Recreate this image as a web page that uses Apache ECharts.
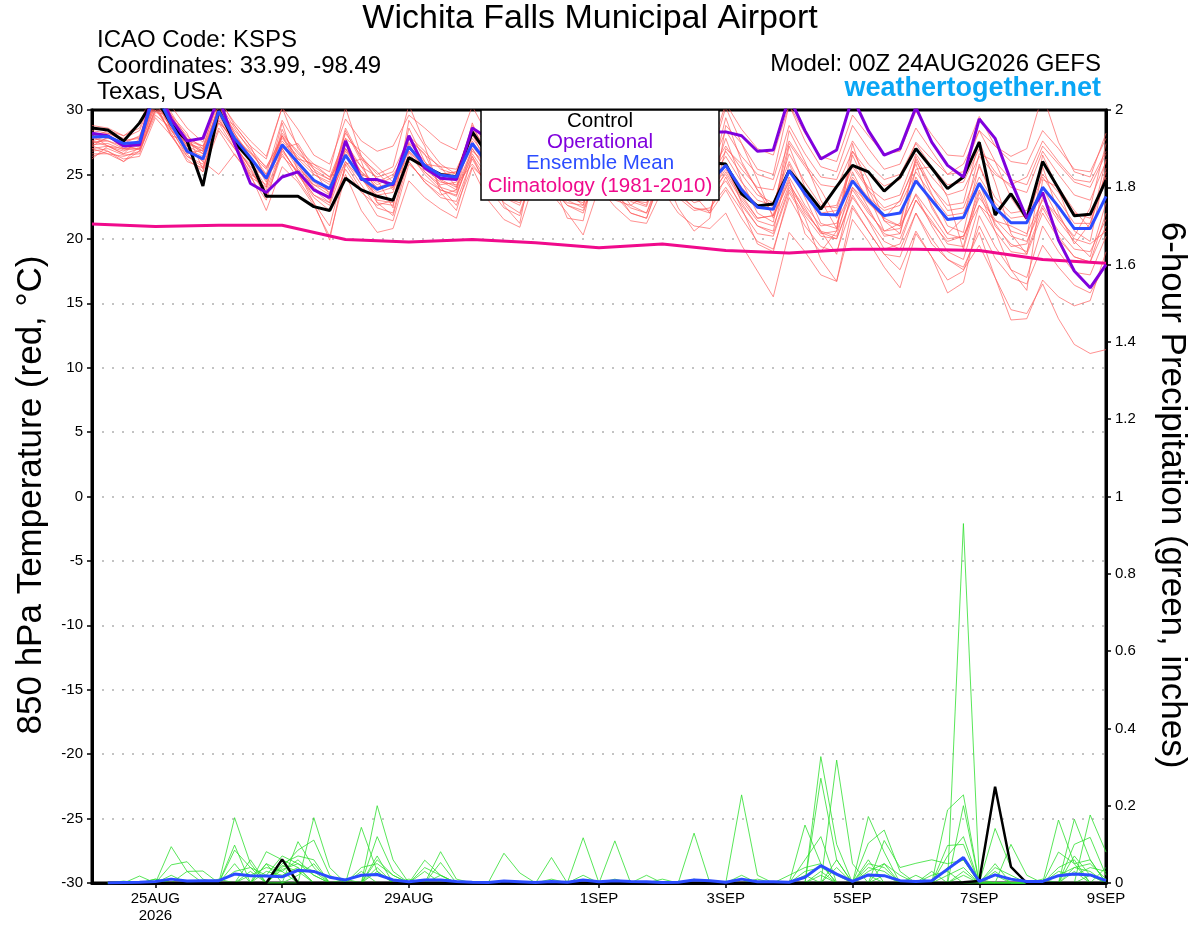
<!DOCTYPE html>
<html><head><meta charset="utf-8">
<script src="https://cdn.jsdelivr.net/npm/echarts@6/dist/echarts.min.js"></script>
<style>html,body{margin:0;padding:0;background:#fff}#c{width:1200px;height:927px}</style>
</head><body><div id="c"></div>
<script>
// ---- tick labels (forecast hour from 00Z 24AUG2026) ----
const tickHours = [24, 72, 120, 192, 240, 288, 336, 384];
const tickLabels = ['25AUG\n2026', '27AUG', '29AUG', '1SEP', '3SEP', '5SEP', '7SEP', '9SEP'];

// ---- 850 hPa temperature, 6-hourly (65 values) ----
const tempControl = [
28.6,28.45,27.6,29.0, 31.0,28.9,27.6,24.1, 30.0,27.5,26.1,23.3, 23.3,23.3,22.5,22.2,
24.7,23.8,23.3,23.0, 26.3,25.6,25.0,24.8, 28.3,26.5,25.4,25.0, 27.6,26.4,25.6,25.2,
27.8,26.6,25.7,25.3, 27.9,26.8,26.0,25.9, 25.8,23.5,22.55,22.7, 25.3,23.85,22.3,24.05,
25.7,25.2,23.7,24.8, 27.0,25.5,23.9,24.8, 27.5,21.85,23.5,21.6, 26.0,23.9,21.8,21.9, 24.55];
const tempOper = [
28.2,28.0,27.2,27.3, 32.0,29.3,27.6,27.8, 31.0,27.4,24.3,23.6, 24.8,25.2,23.8,23.2,
27.6,24.6,24.6,24.2, 28.0,25.5,24.7,24.6, 28.6,27.8,27.0,26.8, 29.0,28.2,27.6,27.4,
29.4,28.6,28.0,27.8, 29.6,28.8,28.4,28.3, 28.3,28.0,26.8,26.9, 31.0,28.4,26.2,26.9,
31.0,28.4,26.5,27.0, 30.2,27.5,25.7,24.8, 29.3,27.8,24.5,21.6, 23.6,19.9,17.5,16.2, 18.0];
const tempMean = [
27.9,27.95,27.4,27.5, 31.5,28.9,26.8,26.2, 29.9,27.8,26.3,24.7, 27.3,25.9,24.55,23.9,
26.5,24.7,23.85,24.3, 27.15,25.7,24.95,24.8, 27.4,25.8,24.6,24.2, 26.8,25.4,24.3,24.0,
26.6,25.2,24.0,23.8, 26.4,25.0,24.1,24.4, 25.7,23.8,22.45,22.3, 25.3,23.5,21.9,21.85,
24.5,23.0,21.8,22.0, 24.5,23.0,21.5,21.65, 24.3,22.4,21.25,21.25, 24.0,22.5,20.8,20.8, 23.3];
// climatology, daily (17 values)
const tempClimo = [21.15,20.95,21.05,21.05,19.95,19.75,19.95,19.7,19.3,19.6,19.1,18.9,19.2,19.2,19.1,18.4,18.1];

// ensemble members (red)
const tm01 = [28.8,28.6,28.0,28.9, 32.0,30.3,28.6,27.5, 30.8,29.0,27.6,26.4, 30.2,28.5,26.5,25.8, 29.3,27.6,26.8,27.2, 29.6,28.6,27.5,26.9, 30.3,28.0,26.9,26.5, 29.2,27.8,26.7,26.3, 29.0,27.6,26.2,25.9, 28.8,27.4,26.5,26.7, 30.5,28.5,27.0,26.5, 30.4,28.2,26.4,26.0, 29.6,28.0,26.6,26.8, 29.9,28.1,26.5,26.4, 29.5,27.2,26.0,25.8, 28.4,27.0,25.4,25.2, 27.8];
const tm02 = [27.0,26.6,26.0,27.2, 30.4,28.0,26.2,25.2, 28.4,26.5,25.0,22.2, 25.6,24.4,22.6,20.2, 25.0,22.2,20.5,20.8, 24.5,23.2,22.3,21.6, 25.5,23.0,21.5,20.9, 24.8,23.5,22.0,20.3, 24.0,22.5,21.4,21.2, 23.8,22.0,21.0,20.8, 22.0,19.5,17.5,15.5, 20.5,19.0,17.2,16.7, 21.5,19.8,17.8,16.2, 20.4,18.6,16.8,17.5, 21.0,18.5,17.0,16.5, 19.5,17.8,16.4,15.8, 18.0];
const tm03 = [27.5,27.6,27.0,27.2, 31.0,29.2,27.0,26.0, 30.5,28.2,26.0,24.0, 28.5,26.0,24.0,23.0, 27.8,25.0,23.0,22.8, 28.6,26.0,24.5,23.8, 28.2,25.5,23.9,23.2, 27.8,25.2,23.5,23.0, 27.6,25.0,23.1,22.6, 27.5,25.2,23.8,24.0, 27.8,24.5,22.0,21.3, 27.2,24.0,21.2,20.8, 26.5,23.8,21.4,21.0, 26.2,23.5,21.0,20.5, 25.8,22.6,20.6,20.2, 26.5,23.8,20.6,19.8, 25.5];
const tm04 = [27.3,27.4,26.9,27.0, 30.8,28.5,26.4,25.8, 29.4,27.2,25.5,23.5, 26.8,25.2,23.4,22.6, 26.0,24.2,22.4,22.0, 26.7,25.0,23.8,23.3, 27.0,25.0,23.6,23.2, 26.3,24.8,23.6,23.2, 26.0,24.2,22.9,22.5, 25.8,24.4,23.4,23.2, 24.5,22.6,21.0,20.4, 24.0,22.2,20.5,20.0, 23.2,21.5,19.8,19.2, 22.0,19.6,18.4,17.8, 20.5,17.0,14.5,14.2, 16.5,13.8,11.8,11.1, 11.4];
const tm05 = [28.0,28.2,27.6,27.9, 31.8,29.6,27.4,26.8, 30.2,28.4,27.0,25.5, 28.0,26.8,25.4,24.6, 27.0,25.6,24.8,25.2, 27.8,26.5,25.6,25.4, 28.0,26.6,25.4,25.0, 27.6,26.2,25.2,24.9, 27.4,26.0,24.8,24.6, 27.2,25.9,24.9,25.2, 27.2,25.4,24.0,23.8, 27.6,25.8,24.2,24.0, 26.8,25.2,24.1,24.6, 27.5,26.2,25.0,25.8, 28.4,27.2,26.4,27.0, 31.2,27.5,25.2,24.8, 28.2];
const tm06 = [26.8,27.0,26.5,26.6, 30.2,28.2,26.0,25.5, 29.0,27.0,25.2,23.8, 27.0,25.0,23.2,22.2, 25.4,23.6,22.6,23.0, 26.0,24.4,23.2,22.9, 26.2,24.0,22.4,21.8, 25.6,23.8,22.6,22.2, 25.2,23.4,22.0,21.6, 25.0,23.4,22.4,22.0, 23.8,21.6,19.8,19.2, 23.2,21.0,19.4,19.0, 22.6,20.6,18.8,18.6, 22.0,20.0,18.4,17.6, 19.5,17.0,13.7,13.8, 16.8,15.5,14.8,15.2, 19.0];
const tm07 = [27.6,27.2,27.0,27.6, 31.2,28.4,26.6,26.9, 29.0,27.8,26.7,25.6, 27.8,26.4,25.2,24.6, 27.4,25.6,23.8,24.2, 27.0,25.8,25.0,25.2, 28.6,26.8,25.6,24.6, 27.0,25.4,24.2,24.4, 26.8,25.6,24.6,24.2, 26.8,25.2,24.0,24.6, 26.4,24.4,23.0,22.6, 26.6,24.4,22.6,22.4, 25.6,23.8,22.4,22.9, 26.0,24.0,22.2,22.4, 25.6,23.2,22.0,22.2, 25.0,23.6,22.0,21.6, 24.8];
const tm08 = [27.2,26.8,26.2,26.4, 29.4,28.0,26.4,25.6, 28.6,27.0,25.8,24.8, 28.0,25.6,24.2,23.4, 26.0,24.6,23.4,23.6, 27.5,26.0,24.6,24.0, 27.0,25.2,23.8,23.0, 26.4,24.6,23.4,23.2, 26.0,24.6,23.2,23.0, 26.2,24.6,23.4,23.6, 25.0,23.0,21.4,21.0, 24.2,22.4,20.4,20.6, 23.8,22.0,20.6,20.8, 23.5,21.8,20.0,20.2, 23.2,21.5,20.2,19.8, 22.6,20.6,19.2,19.0, 21.5];
const tm09 = [28.4,28.2,27.8,28.4, 31.4,29.8,27.8,27.2, 30.6,28.6,26.8,25.0, 29.2,27.2,25.0,24.4, 28.2,26.4,25.0,25.6, 30.4,27.4,25.8,25.0, 28.4,26.6,25.2,24.8, 28.0,26.4,25.0,24.8, 28.2,26.6,25.4,25.0, 28.4,26.6,25.6,26.0, 30.2,27.4,25.4,25.0, 30.4,27.6,25.6,25.2, 28.8,27.0,25.4,25.8, 28.6,26.8,25.0,25.2, 28.4,26.0,24.6,24.2, 27.2,25.8,24.4,24.0, 26.6];
const tm10 = [26.4,26.8,26.0,26.8, 30.0,28.8,27.0,26.4, 30.4,28.0,26.4,24.6, 27.4,25.4,24.4,23.6, 26.8,25.2,24.0,24.4, 26.4,25.2,24.2,24.4, 27.6,25.4,24.0,23.6, 26.6,24.8,23.2,22.8, 26.4,24.6,23.0,22.8, 25.6,24.0,23.2,23.6, 25.4,23.4,21.6,21.8, 24.8,22.6,21.0,21.2, 24.0,22.2,20.4,20.0, 23.0,21.4,19.6,19.4, 24.4,21.0,19.6,19.0, 22.4,20.2,18.6,18.2, 22.0];
const tm11 = [27.8,27.6,27.2,27.4, 30.6,28.6,26.8,26.2, 29.6,27.4,25.4,23.2, 26.6,24.6,22.8,19.9, 25.8,23.8,21.8,21.4, 25.8,24.6,23.8,23.4, 26.6,24.8,23.2,22.6, 26.0,24.2,22.6,22.0, 25.6,23.8,22.0,21.6, 25.2,23.6,22.4,22.2, 24.8,22.4,19.6,19.0, 23.6,21.6,18.4,16.7, 22.4,20.6,18.8,17.6, 20.6,18.6,15.8,16.6, 21.8,19.4,17.6,17.0, 21.0,19.0,17.4,17.2, 20.2];
const tm12 = [27.4,27.8,27.6,27.8, 32.0,29.0,27.2,26.6, 29.8,28.0,26.6,25.4, 27.6,26.2,25.0,24.2, 27.0,25.2,24.2,24.8, 27.2,25.8,24.6,24.6, 27.2,25.6,24.4,24.0, 26.6,25.4,24.4,23.8, 26.6,25.2,23.8,23.6, 26.2,24.8,23.8,24.2, 25.8,24.0,22.6,22.8, 26.0,23.6,22.0,22.2, 24.8,23.2,22.2,22.6, 25.2,23.4,21.8,22.0, 24.8,22.8,21.6,21.8, 24.8,23.0,21.2,21.2, 24.6];
const tm13 = [28.2,28.0,27.4,28.0, 30.8,29.4,28.0,27.0, 31.0,28.8,27.2,26.2, 30.2,27.0,25.8,25.2, 30.2,26.4,24.6,24.0, 28.0,26.8,25.4,25.0, 28.8,27.2,25.8,25.2, 28.2,26.8,25.6,25.4, 27.8,26.4,25.2,25.0, 27.6,26.2,25.0,25.4, 28.4,26.4,25.0,24.6, 28.8,26.6,24.8,24.6, 27.6,25.8,24.6,25.0, 27.4,25.6,24.2,24.4, 27.0,25.2,24.0,23.6, 26.8,25.0,23.4,23.0, 26.0];
const tm14 = [26.6,26.6,26.4,26.8, 29.6,28.6,27.6,27.2, 29.2,27.6,26.2,25.0, 27.2,25.8,23.8,22.8, 27.0,24.8,22.8,22.6, 27.4,25.2,24.0,23.6, 26.4,24.4,22.8,22.0, 25.8,24.0,22.8,22.6, 26.2,24.4,22.6,22.0, 25.4,23.8,22.8,23.2, 25.8,22.8,21.0,20.6, 25.8,23.2,20.6,20.2, 24.6,22.4,20.2,20.4, 24.8,22.6,20.4,20.0, 23.8,21.2,19.4,19.6, 23.2,21.4,19.8,18.6, 22.8];
const tm15 = [27.9,28.4,28.0,28.6, 31.6,29.6,27.6,26.6, 30.2,28.2,26.4,24.4, 28.2,26.6,25.6,24.8, 26.4,25.0,24.4,25.0, 26.8,25.6,25.0,25.2, 27.8,26.2,25.0,24.6, 27.4,26.0,24.8,24.4, 27.2,25.8,24.6,24.4, 27.0,25.6,24.6,24.8, 26.8,25.0,23.4,22.8, 25.2,23.8,22.4,22.6, 25.8,24.0,23.0,23.4, 26.6,24.8,23.4,23.8, 26.4,25.0,24.2,24.8, 27.6,26.0,24.6,24.4, 26.8];
const tm16 = [27.0,27.2,26.6,27.0, 30.4,29.0,27.2,26.0, 25.0,26.6,24.8,23.0, 27.0,25.0,23.4,22.8, 26.6,24.6,23.6,24.0, 26.8,25.4,24.4,24.2, 25.8,24.2,23.2,22.8, 25.4,24.0,23.0,22.4, 25.0,23.4,22.4,22.0, 24.8,23.2,22.2,22.4, 24.0,22.2,20.4,20.2, 23.8,21.8,20.2,20.0, 23.4,21.4,19.2,19.6, 23.0,21.2,19.8,20.2, 22.6,20.6,19.0,18.8, 22.0,20.0,18.6,18.2, 21.0];
const tm17 = [27.2,27.9,27.3,26.9, 29.8,29.6,28.2,25.4, 29.2,27.4,25.0,24.2, 29.0,25.2,22.8,21.0, 25.8,26.2,24.6,22.4, 29.2,27.2,23.6,22.2, 26.4,23.8,23.8,24.6, 28.4,24.6,21.6,21.4, 26.8,26.8,24.2,23.6, 25.2,22.4,20.6,21.6, 28.8,27.4,24.6,21.6, 24.6,20.4,19.0,20.6, 26.8,24.6,21.4,20.4, 25.4,25.6,23.2,19.2, 23.6,20.6,17.6,16.0, 24.6,24.0,22.2,20.8, 26.2];
const tm18 = [28.0,27.2,26.6,27.8, 30.6,28.0,27.6,26.8, 29.6,28.8,27.2,24.6, 27.0,27.4,25.4,23.4, 28.4,26.0,22.8,21.8, 26.2,25.8,25.6,24.0, 29.0,26.0,22.6,21.2, 27.4,26.6,24.4,23.0, 25.4,23.0,22.6,23.4, 27.8,26.0,23.4,22.0, 27.0,25.8,23.8,21.8, 28.4,26.0,23.0,20.8, 27.4,23.4,20.6,21.2, 26.4,24.0,22.6,22.8, 27.6,24.4,20.4,18.8, 25.6,22.0,19.6,21.2, 25.2];
const tm19 = [26.2,27.2,26.8,27.6, 31.0,29.2,26.6,25.2, 30.0,27.2,24.8,24.0, 28.0,26.2,25.8,24.8, 27.8,26.8,25.6,24.4, 26.0,24.4,23.4,23.8, 26.8,25.8,25.6,25.0, 27.2,25.2,23.6,22.6, 26.0,24.6,24.2,24.8, 28.0,26.6,25.2,24.4, 29.4,26.0,23.8,22.4, 27.4,25.6,23.8,21.6, 25.2,22.8,21.6,23.0, 25.8,22.4,20.4,21.6, 26.6,26.0,23.2,21.4, 24.0,21.6,20.2,22.4, 27.4];
const tm20 = [27.6,28.0,27.0,27.0, 30.0,28.4,27.4,27.0, 30.2,27.2,25.6,24.8, 26.4,25.2,24.2,23.8, 28.6,26.2,25.2,23.8, 27.8,26.6,24.0,22.6, 25.6,24.4,23.8,23.6, 28.0,26.6,25.6,25.8, 27.8,26.2,24.4,23.2, 26.4,25.0,23.6,23.0, 25.2,23.2,21.6,21.8, 24.4,22.0,20.6,18.8, 24.0,22.8,21.6,21.0, 23.4,21.0,19.0,18.4, 22.6,21.4,21.0,20.4, 23.0,21.8,20.0,19.6, 20.6];
const tempMembers = [tm01,tm02,tm03,tm04,tm05,tm06,tm07,tm08,tm09,tm10,tm11,tm12,tm13,tm14,tm15,tm16,tm17,tm18,tm19,tm20];

// ---- 6-hour precipitation (inches), first value is the analysis time ----
const precControl = [null,0,0,0, 0,0,0,0, 0,0,0,0, 0.061,0,0,0, 0,0,0,0, 0,0,0,0, 0,0,0,0, 0,0,0,0, 0,0,0,0, 0,0,0,0, 0,0,0,0, 0,0,0,0, 0,0,0,0, 0,0,0,0.002, 0.005,0.249,0.042,0, 0,0,0,0, 0];
const precMean = [null,0,0.001,0.002, 0.004,0.01,0.005,0.006, 0.006,0.023,0.019,0.018, 0.016,0.033,0.03,0.015, 0.008,0.02,0.022,0.008, 0.003,0.008,0.008,0.004, 0.002,0.001,0.005,0.003, 0.001,0.004,0.002,0.008, 0.003,0.006,0.004,0.003, 0.001,0.002,0.008,0.006, 0.002,0.01,0.003,0.003, 0.002,0.015,0.045,0.023, 0.004,0.021,0.019,0.006, 0.004,0.006,0.036,0.066, 0.004,0.021,0.01,0.004, 0.004,0.019,0.023,0.021, 0.006];
const pm01 = [null,0,0,0, 0,0.094,0.03,0, 0,0.169,0.05,0, 0,0,0.169,0.04, 0,0,0.2,0.06, 0,0,0.081,0.01, 0,0,0,0, 0,0,0,0.117, 0,0,0,0, 0,0,0,0, 0,0,0,0, 0,0,0.327,0.1, 0,0,0,0, 0,0,0,0.93, 0.01,0,0,0, 0,0,0.165,0.06, 0];
const pm02 = [null,0,0,0.018, 0,0.047,0.055,0.01, 0,0.098,0,0.05, 0,0.107,0.04,0, 0,0.144,0.03,0, 0,0,0,0, 0,0,0.077,0.026, 0,0,0,0, 0,0,0,0, 0,0,0,0, 0,0,0,0, 0,0,0,0.318, 0.05,0,0,0, 0,0,0.189,0.228, 0,0,0,0, 0,0.163,0.05,0, 0];
const pm03 = [null,0,0.005,0, 0.01,0,0,0, 0,0.085,0.04,0, 0.04,0.085,0.111,0.02, 0,0,0.12,0.03, 0,0,0.053,0, 0,0,0,0, 0,0.066,0,0, 0,0,0,0, 0,0,0,0, 0,0,0,0, 0,0,0.271,0.06, 0,0.172,0.08,0, 0,0,0,0.2, 0,0.141,0.04,0, 0,0,0,0.176, 0.08];
const pm04 = [null,0,0,0, 0,0,0.03,0.031, 0,0.05,0,0.081, 0.06,0.04,0,0, 0,0,0.07,0, 0,0.059,0.02,0, 0,0,0,0, 0,0,0,0, 0,0.109,0,0, 0,0,0,0, 0,0,0,0, 0,0.15,0.05,0, 0,0.103,0.137,0.03, 0,0,0.097,0.1, 0,0,0.1,0.02, 0,0,0.1,0.118, 0.02];
const pm05 = [null,0,0,0, 0,0.02,0,0, 0.01,0,0.06,0, 0.05,0.07,0.06,0, 0.01,0,0.04,0, 0,0.03,0,0, 0,0,0,0, 0,0,0,0, 0,0,0,0, 0,0,0.129,0, 0,0.02,0,0, 0.02,0.04,0.05,0, 0,0,0.11,0.04, 0.051,0.06,0.05,0.06, 0,0,0,0, 0,0.08,0.05,0.06, 0];
const pm06 = [null,0,0,0, 0,0,0,0, 0,0,0,0.05, 0.03,0.06,0.02,0, 0,0,0,0, 0,0,0,0, 0,0,0,0, 0,0,0,0, 0,0,0,0, 0,0,0,0, 0,0.228,0.02,0, 0,0,0,0.06, 0,0.04,0.03,0, 0,0.02,0.03,0, 0,0.03,0,0, 0.01,0,0.04,0.05, 0.01];
const pm07 = [null,0,0,0, 0.01,0,0,0, 0,0,0.03,0, 0.045,0.03,0,0, 0,0.04,0.05,0.02, 0,0,0.02,0, 0,0,0,0, 0,0,0,0, 0,0,0,0.02, 0,0,0,0, 0,0,0,0, 0,0.03,0.04,0.02, 0,0.03,0.05,0.02, 0,0,0.04,0.06, 0,0.04,0.02,0, 0,0.03,0.02,0.04, 0.03];
const pm08 = [null,0,0,0, 0,0,0,0, 0,0.03,0.04,0.02, 0.07,0.05,0.03,0, 0,0,0,0, 0,0,0,0, 0,0,0,0, 0,0,0,0.02, 0,0.01,0,0, 0.01,0,0,0, 0,0,0.01,0, 0,0,0.03,0, 0,0,0.02,0, 0,0,0,0.02, 0,0.02,0,0, 0,0,0.03,0, 0];
const pm09 = [null,0,0,0, 0,0,0,0, 0,0,0,0, 0.035,0.05,0.02,0, 0,0,0,0, 0.01,0,0,0, 0,0,0,0, 0,0.01,0,0, 0,0,0,0, 0,0,0,0, 0,0,0,0, 0,0,0.02,0, 0,0.05,0.04,0, 0,0,0,0.03, 0,0,0,0, 0,0.02,0.04,0.03, 0];
const pm10 = [null,0,0,0, 0,0,0,0, 0,0,0,0.03, 0.02,0.04,0,0, 0,0,0.03,0, 0,0,0,0, 0,0,0,0, 0,0,0,0, 0,0,0,0, 0,0,0.01,0, 0,0,0,0, 0,0.02,0,0.04, 0,0.02,0,0, 0.02,0,0.02,0.04, 0,0,0,0, 0,0,0,0.02, 0];
const pm11 = [null,0,0,0, 0,0,0,0, 0,0,0,0, 0,0.02,0.05,0, 0,0.03,0,0, 0,0.04,0.02,0, 0,0,0,0, 0,0,0,0, 0,0,0,0, 0,0,0,0, 0,0,0,0, 0,0.06,0.12,0, 0,0.06,0,0, 0,0,0.07,0.12, 0,0,0,0, 0,0,0.07,0.02, 0];
const pm12 = [null,0,0,0, 0,0,0,0, 0,0,0.02,0.04, 0.03,0,0,0, 0,0,0.06,0.02, 0,0,0,0, 0,0,0,0, 0,0,0,0, 0,0,0,0, 0,0,0,0, 0,0,0,0, 0,0,0,0, 0,0,0.05,0, 0,0.03,0,0, 0,0.05,0,0, 0,0.04,0.06,0, 0.04];
const precMembers = [pm01,pm02,pm03,pm04,pm05,pm06,pm07,pm08,pm09,pm10,pm11,pm12];

// ---- text ----
const titleText = 'Wichita Falls Municipal Airport';
const infoLines = ['ICAO Code: KSPS', 'Coordinates: 33.99, -98.49', 'Texas, USA'];
const modelText = 'Model: 00Z 24AUG2026 GEFS';
const siteText = 'weathertogether.net';
const legendItems = ['Control', 'Operational', 'Ensemble Mean', 'Climatology (1981-2010)'];
const leftTitle = '850 hPa Temperature (red, \u00B0C)';
const rightTitle = '6-hour Precipitation (green, inches)';

// ---- build ----
const FONT = '"Liberation Sans", Arial, Helvetica, sans-serif';
const C_RED = '#ff5a5a', C_GREEN = '#2fe02f', C_OPER = '#8000dd', C_MEAN = '#2b4cff', C_CLIM = '#f00a8c';
const pairs = (arr, step) => arr.map((v, i) => [i * step, v]);

const series = [];
tempMembers.forEach(m => series.push({type:'line', yAxisIndex:0, data:pairs(m,6), symbol:'none', silent:true,
  lineStyle:{color:C_RED, width:0.8, opacity:0.85}, z:2}));
precMembers.forEach(m => series.push({type:'line', yAxisIndex:1, data:pairs(m,6), symbol:'none', silent:true,
  lineStyle:{color:C_GREEN, width:0.8}, z:2}));
series.push({type:'line', yAxisIndex:0, data:pairs(tempClimo,24), symbol:'none', lineStyle:{color:C_CLIM, width:3}, z:3});
series.push({type:'line', yAxisIndex:0, data:pairs(tempControl,6), symbol:'none', lineStyle:{color:'#000', width:3}, z:3});
series.push({type:'line', yAxisIndex:1, data:pairs(precControl,6), symbol:'none', lineStyle:{color:'#000', width:2.5}, z:3});
series.push({type:'line', yAxisIndex:0, data:pairs(tempOper,6), symbol:'none', lineStyle:{color:C_OPER, width:3}, z:4});
series.push({type:'line', yAxisIndex:0, data:pairs(tempMean,6), symbol:'none', lineStyle:{color:C_MEAN, width:3}, z:5});
series.push({type:'line', yAxisIndex:1, data:pairs(precMean,6), symbol:'none', lineStyle:{color:C_MEAN, width:3}, z:5});

const txt = (text, x, y, font, fill, align, extra) => Object.assign({type:'text', x, y, z:100,
  style:{text, font, fill, align, verticalAlign:'middle'}}, extra || {});

const graphics = [
  txt(titleText, 590, 19, '34px ' + FONT, '#000', 'center'),
  txt(infoLines[0], 97, 40, '24px ' + FONT, '#000', 'left'),
  txt(infoLines[1], 97, 66, '24px ' + FONT, '#000', 'left'),
  txt(infoLines[2], 97, 92, '24px ' + FONT, '#000', 'left'),
  txt(modelText, 1101, 64, '24px ' + FONT, '#000', 'right'),
  txt(siteText, 1101, 89, 'bold 27px ' + FONT, '#0aa6f5', 'right'),
  {type:'rect', z:100, shape:{x:481, y:110, width:238, height:90}, style:{fill:'#fff', stroke:'#000', lineWidth:1.5}},
  txt(legendItems[0], 600, 121, '20.5px ' + FONT, '#000', 'center', {z:101}),
  txt(legendItems[1], 600, 142, '20.5px ' + FONT, C_OPER, 'center', {z:101}),
  txt(legendItems[2], 600, 163, '20.5px ' + FONT, C_MEAN, 'center', {z:101}),
  txt(legendItems[3], 600, 186, '20.5px ' + FONT, C_CLIM, 'center', {z:101}),
  txt(leftTitle, 31, 495, '35px ' + FONT, '#000', 'center', {rotation: Math.PI/2}),
  txt(rightTitle, 1172, 495, '35px ' + FONT, '#000', 'center', {rotation: -Math.PI/2})
];

const gridColors = ['transparent','#b0b0b0','#b0b0b0','#b0b0b0','#b0b0b0','#b0b0b0','#b0b0b0','#b0b0b0','#b0b0b0','#b0b0b0','#b0b0b0','#b0b0b0','transparent'];

const chart = echarts.init(document.getElementById('c'), null, {renderer:'canvas'});
chart.setOption({
  animation:false,
  backgroundColor:'#fff',
  textStyle:{fontFamily:FONT},
  grid:{left:92, right:94, top:110, bottom:44, show:true, borderColor:'#000', borderWidth:3, backgroundColor:'transparent'},
  xAxis:{type:'value', min:0, max:384,
    axisLine:{show:true, onZero:false, lineStyle:{color:'#000', width:3}},
    axisTick:{show:true, customValues:tickHours, length:5, lineStyle:{color:'#000', width:1.5}},
    axisLabel:{customValues:tickHours, showMaxLabel:true, showMinLabel:true, color:'#000', fontSize:15, margin:7, lineHeight:17,
      fontFamily:FONT, formatter:(v)=>{const k=tickHours.indexOf(Math.round(v)); return k>=0?tickLabels[k]:'';}},
    splitLine:{show:false}},
  yAxis:[
    {type:'value', min:-30, max:30, interval:5, position:'left',
      axisLine:{show:true, lineStyle:{color:'#000', width:3}},
      axisTick:{show:true, length:5, lineStyle:{color:'#000', width:1.5}},
      axisLabel:{color:'#000', fontSize:15, margin:9, fontFamily:FONT},
      splitLine:{show:true, lineStyle:{color:gridColors, width:1.5, type:[2,8]}}},
    {type:'value', min:0, max:2, interval:0.2, position:'right',
      axisLine:{show:true, lineStyle:{color:'#000', width:3}},
      axisTick:{show:true, length:5, lineStyle:{color:'#000', width:1.5}},
      axisLabel:{color:'#000', fontSize:15, margin:9, fontFamily:FONT,
        formatter:(v)=>String(Math.round(v*10)/10)},
      splitLine:{show:false}}
  ],
  graphic:{elements:graphics},
  series
});
</script>
</body></html>
